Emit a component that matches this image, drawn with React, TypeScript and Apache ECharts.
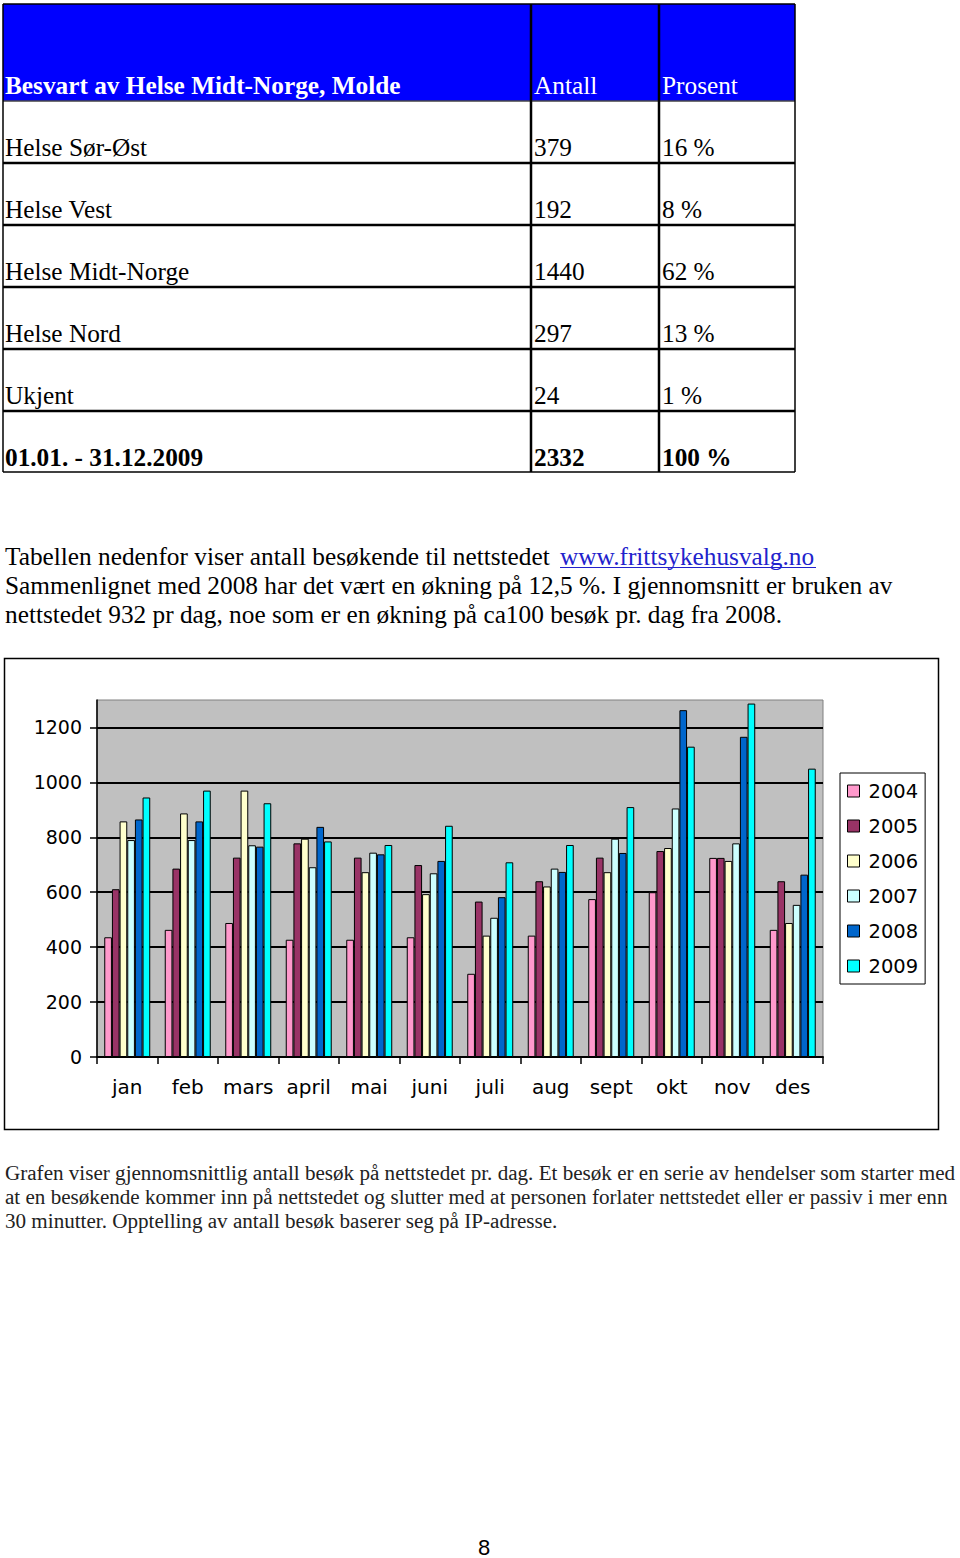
import React, { useEffect, useRef } from 'react';
import * as echarts from 'echarts';

// ---- Table data ----
const tableHeaders = ['Besvart av Helse Midt-Norge, Molde', 'Antall', 'Prosent'];
const regions = ['Helse Sør-Øst', 'Helse Vest', 'Helse Midt-Norge', 'Helse Nord', 'Ukjent', '01.01. - 31.12.2009'];
const counts = ['379', '192', '1440', '297', '24', '2332'];
const percents = ['16 %', '8 %', '62 %', '13 %', '1 %', '100 %'];

// ---- Texts ----
const introLine1 = 'Tabellen nedenfor viser antall besøkende til nettstedet ';
const introLink = 'www.frittsykehusvalg.no';
const introLines = [
  'Sammenlignet med 2008 har det vært en økning på 12,5 %. I gjennomsnitt er bruken av',
  'nettstedet 932 pr dag, noe som er en økning på ca100 besøk pr. dag fra 2008.',
];
const footLines = [
  'Grafen viser gjennomsnittlig antall besøk på nettstedet pr. dag. Et besøk er en serie av hendelser som starter med',
  'at en besøkende kommer inn på nettstedet og slutter med at personen forlater nettstedet eller er passiv i mer enn',
  '30 minutter. Opptelling av antall besøk baserer seg på IP-adresse.',
];
const pageNumber = '8';

// ---- Chart data ----
const months = ['jan', 'feb', 'mars', 'april', 'mai', 'juni', 'juli', 'aug', 'sept', 'okt', 'nov', 'des'];
const years = ['2004', '2005', '2006', '2007', '2008', '2009'];
const v2004 = [436, 463, 488, 427, 427, 436, 303, 442, 575, 600, 725, 463];
const v2005 = [611, 686, 726, 778, 726, 699, 566, 640, 726, 750, 725, 640];
const v2006 = [858, 887, 970, 795, 673, 593, 442, 621, 673, 761, 714, 488];
const v2007 = [790, 790, 771, 691, 744, 669, 507, 686, 795, 905, 778, 554];
const v2008 = [865, 858, 766, 838, 738, 714, 582, 674, 743, 1263, 1166, 664];
const v2009 = [945, 970, 924, 785, 772, 842, 709, 772, 910, 1130, 1287, 1050];
const seriesValues = [v2004, v2005, v2006, v2007, v2008, v2009];
const yearColors = ['#FF99CC', '#993366', '#FFFFCC', '#CCFFFF', '#0066CC', '#00FFFF'];
const yMax = 1300;
const yInterval = 200;

const SERIF = "'Liberation Serif', 'Times New Roman', serif";
const SANS = "'DejaVu Sans', Verdana, sans-serif";
const BODY_SIZE = 25.3;
const FOOT_SIZE = 21.1;

export default function App() {
  const ref = useRef<HTMLDivElement>(null);

  useEffect(() => {
    if (!ref.current) return;
    const chart = echarts.init(ref.current, undefined, { renderer: 'svg' });

    const graphics: any[] = [];
    // Table
    const colX = [3, 531, 659, 795];
    const rowY = [4, 101, 163, 225, 287, 349, 411, 472];
    graphics.push({
      type: 'rect',
      shape: { x: colX[0], y: rowY[0], width: colX[3] - colX[0], height: rowY[1] - rowY[0] },
      style: { fill: '#0000FF' },
    });
    rowY.forEach((y, i) => {
      graphics.push({
        type: 'line',
        shape: { x1: colX[0], y1: y, x2: colX[3], y2: y },
        style: { stroke: i === 1 ? '#444' : '#000', lineWidth: i === 0 || i === 1 || i === rowY.length - 1 ? 1.5 : 2.5 },
      });
    });
    colX.forEach((x, i) => {
      graphics.push({
        type: 'line',
        shape: { x1: x, y1: rowY[0], x2: x, y2: rowY[rowY.length - 1] },
        style: { stroke: '#000', lineWidth: i === 0 || i === 3 ? 1.5 : 2.5 },
      });
    });
    const textX = [5, 534, 662];
    tableHeaders.forEach((h, i) => {
      graphics.push({
        type: 'text', x: textX[i], y: 85,
        style: { text: h, fill: '#fff', fontFamily: SERIF, fontSize: BODY_SIZE, fontWeight: i === 0 ? 'bold' : 'normal', align: 'left', verticalAlign: 'middle' },
      });
    });
    regions.forEach((r, i) => {
      const y = rowY[i + 1] + 46;
      const bold = i === regions.length - 1 ? 'bold' : 'normal';
      [r, counts[i], percents[i]].forEach((t, c) => {
        graphics.push({
          type: 'text', x: textX[c], y,
          style: { text: t, fill: '#000', fontFamily: SERIF, fontSize: BODY_SIZE, fontWeight: bold, align: 'left', verticalAlign: 'middle' },
        });
      });
    });

    // Intro paragraph
    graphics.push({
      type: 'text', x: 5, y: 556,
      style: { text: introLine1, fill: '#000', fontFamily: SERIF, fontSize: BODY_SIZE, align: 'left', verticalAlign: 'middle' },
    });
    graphics.push({
      type: 'text', x: 560, y: 556,
      style: { text: introLink, fill: '#2222CC', fontFamily: SERIF, fontSize: BODY_SIZE, align: 'left', verticalAlign: 'middle' },
    });
    graphics.push({
      type: 'line', shape: { x1: 560, y1: 567.5, x2: 816, y2: 567.5 }, style: { stroke: '#2222CC', lineWidth: 1.2 },
    });
    introLines.forEach((t, i) => {
      graphics.push({
        type: 'text', x: 5, y: 585 + i * 29,
        style: { text: t, fill: '#000', fontFamily: SERIF, fontSize: BODY_SIZE, align: 'left', verticalAlign: 'middle' },
      });
    });

    // Chart frame
    graphics.push({
      type: 'rect', z: -10,
      shape: { x: 4.5, y: 658.5, width: 934, height: 471 },
      style: { fill: 'none', stroke: '#000', lineWidth: 1.5 },
    });

    // Footer text
    footLines.forEach((t, i) => {
      graphics.push({
        type: 'text', x: 5, y: 1173 + i * 24,
        style: { text: t, fill: '#222', fontFamily: SERIF, fontSize: FOOT_SIZE, align: 'left', verticalAlign: 'middle' },
      });
    });
    graphics.push({
      type: 'text', x: 484, y: 1547,
      style: { text: pageNumber, fill: '#000', fontFamily: "'Liberation Sans', Arial, sans-serif", fontSize: 22, align: 'center', verticalAlign: 'middle' },
    });

    chart.setOption({
      animation: false,
      backgroundColor: '#fff',
      graphic: graphics,
      grid: {
        left: 97, top: 700, width: 726, height: 357,
        show: true, backgroundColor: '#C0C0C0', borderColor: '#808080', borderWidth: 1,
      },
      legend: {
        orient: 'vertical',
        left: 840, top: 773,
        padding: [8, 7, 8, 7],
        borderColor: '#000', borderWidth: 1,
        itemWidth: 12, itemHeight: 12, itemGap: 15,
        icon: 'rect',
        itemStyle: { borderColor: '#000', borderWidth: 1 },
        textStyle: { fontFamily: SANS, fontSize: 19.5, color: '#000', lineHeight: 20, padding: [0, 0, 0, 4] },
        data: years,
      },
      xAxis: {
        type: 'category',
        data: months,
        boundaryGap: true,
        axisLine: { lineStyle: { color: '#000', width: 2 } },
        axisTick: { show: true, length: 7, inside: false, lineStyle: { color: '#000', width: 1.5 } },
        axisLabel: { interval: 0, fontFamily: SANS, fontSize: 20, color: '#000', margin: 20 },
        splitLine: { show: false },
      },
      yAxis: {
        type: 'value',
        min: 0, max: yMax, interval: yInterval,
        axisLine: { show: true, lineStyle: { color: '#000', width: 1.5 } },
        axisTick: { show: true, length: 7, lineStyle: { color: '#000', width: 1.5 } },
        axisLabel: {
          fontFamily: SANS, fontSize: 19, color: '#000', margin: 15, showMaxLabel: false,
          formatter: (v: number) => String(v),
        },
        splitLine: { show: true, showMaxLine: false, showMinLine: false, lineStyle: { color: '#000', width: 2 } },
      },
      series: years.map((y, i) => ({
        name: y,
        type: 'bar',
        data: seriesValues[i],
        barGap: '0%',
        barCategoryGap: '24%',
        itemStyle: { color: yearColors[i], borderColor: '#000', borderWidth: 1 },
      })),
    });

    return () => chart.dispose();
  }, []);

  return <div ref={ref} style={{ position: 'absolute', left: 0, top: 0, width: 960, height: 1558 }} />;
}
